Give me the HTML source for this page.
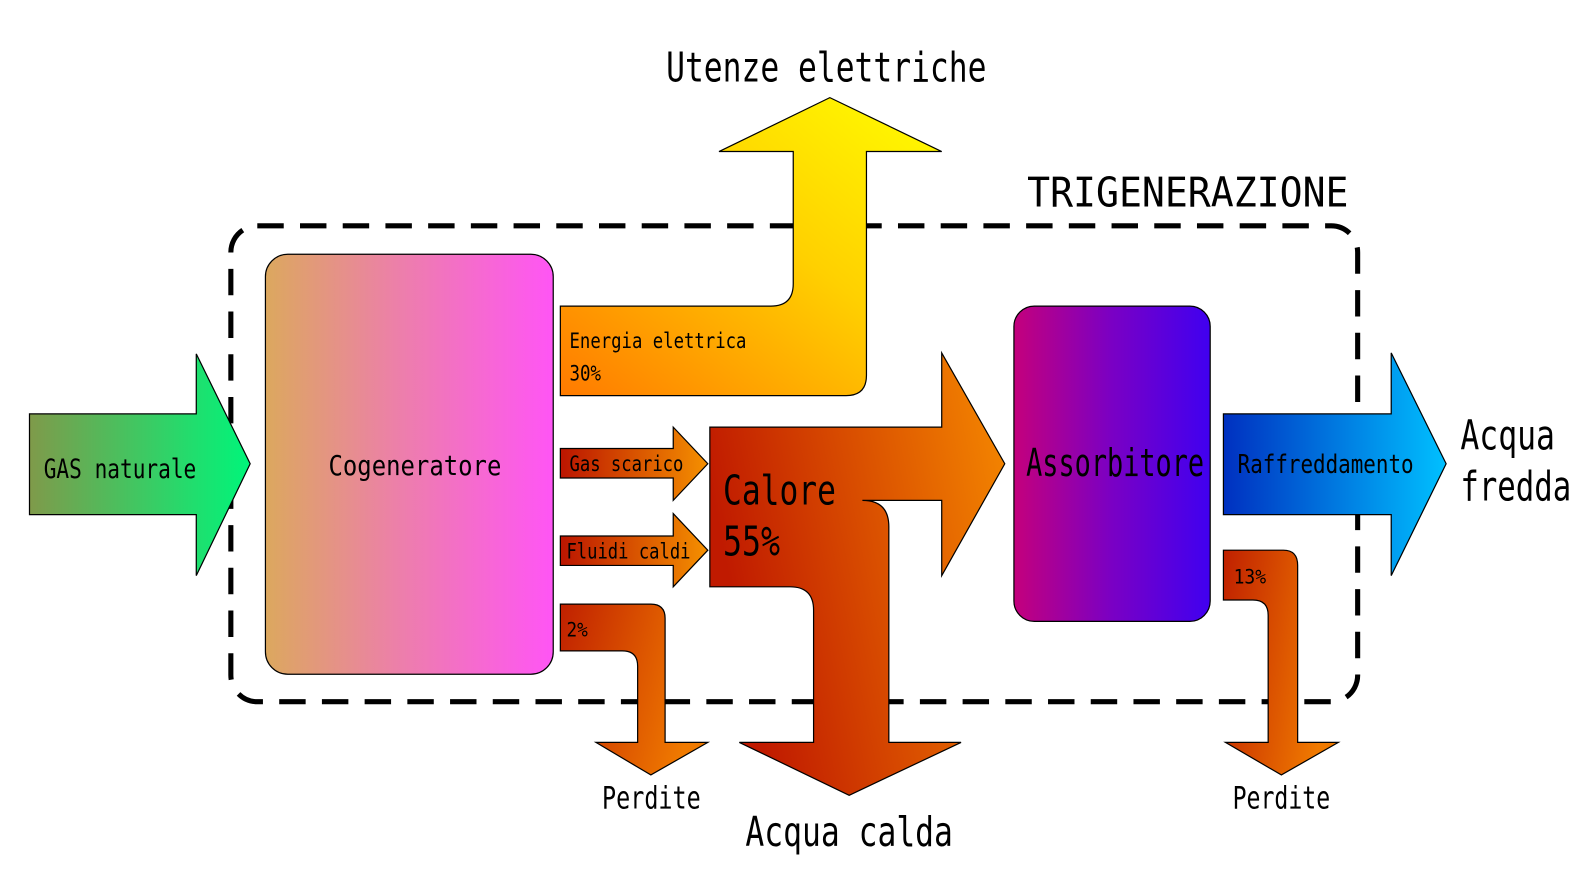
<!DOCTYPE html>
<html><head><meta charset="utf-8"><style>
html,body{margin:0;padding:0;background:#fff;width:1594px;height:880px;overflow:hidden}
svg{display:block}
text{font-family:"DejaVu Sans Mono","Liberation Mono",monospace;fill:#000}
</style></head><body>
<svg width="1594" height="880" viewBox="0 0 1567.4 865.3" preserveAspectRatio="none" xmlns="http://www.w3.org/2000/svg">
<defs>
<linearGradient id="gGreen" x1="0" x2="1" y1="0" y2="0"><stop offset="0" stop-color="#7f9a4a"/><stop offset="1" stop-color="#00f57a"/></linearGradient>
<linearGradient id="gCog" x1="0" x2="1" y1="0" y2="0"><stop offset="0" stop-color="#dca85e"/><stop offset="0.45" stop-color="#ec80a8"/><stop offset="1" stop-color="#ff55f5"/></linearGradient>
<linearGradient id="gYel" x1="0" x2="1" y1="1" y2="0"><stop offset="0" stop-color="#ff7a00"/><stop offset="0.55" stop-color="#ffd000"/><stop offset="1" stop-color="#ffff00"/></linearGradient>
<linearGradient id="gRed" x1="0" x2="1" y1="0" y2="0"><stop offset="0" stop-color="#bb1500"/><stop offset="1" stop-color="#f59000"/></linearGradient>
<linearGradient id="gCal" x1="0" x2="1" y1="0.3" y2="0"><stop offset="0" stop-color="#c01a00"/><stop offset="1" stop-color="#f68a00"/></linearGradient>
<linearGradient id="gAss" x1="0" x2="1" y1="0" y2="0"><stop offset="0" stop-color="#c4007c"/><stop offset="0.5" stop-color="#7a00c4"/><stop offset="1" stop-color="#4000f0"/></linearGradient>
<linearGradient id="gBlue" x1="0" x2="1" y1="0" y2="0"><stop offset="0" stop-color="#0030c0"/><stop offset="1" stop-color="#00c0ff"/></linearGradient>
<linearGradient id="gLoss" x1="0" x2="1" y1="0" y2="0.3"><stop offset="0" stop-color="#c02000"/><stop offset="1" stop-color="#f07a00"/></linearGradient>
</defs>

<rect x="227" y="222" width="1108" height="468" rx="26" fill="none" stroke="#000" stroke-width="5" stroke-dasharray="26 16"/>

<path d="M29,407 H193 V348 L246,456 L193,566 V506 H29 Z" fill="url(#gGreen)" stroke="#000" stroke-width="1.2"/>
<rect x="261" y="250" width="283" height="413" rx="22" fill="url(#gCog)" stroke="#000" stroke-width="1.2"/>

<path d="M551,301 H758 Q780,301 780,279 V149 H707 L816,96 L926,149 H852 V369 Q852,389 832,389 H551 Z" fill="url(#gYel)" stroke="#000" stroke-width="1.2"/>

<path d="M551,441 H662 V420 L696,456 L662,492 V470 H551 Z" fill="url(#gRed)" stroke="#000" stroke-width="1.2"/>
<path d="M551,527 H662 V505 L696,541 L662,577 V556 H551 Z" fill="url(#gRed)" stroke="#000" stroke-width="1.2"/>

<path d="M698,420 H926 V347 L988,456 L926,566 V492 H848 Q874,492 874,518 V730 H945 L835,782 L727,730 H800 V600 Q800,577 777,577 H698 Z" fill="url(#gCal)" stroke="#000" stroke-width="1.2"/>

<path d="M551,594 H640 Q654,594 654,608 V730 H696 L640,762 L586,730 H627 V655 Q627,640 612,640 H551 Z" fill="url(#gLoss)" stroke="#000" stroke-width="1.2"/>

<rect x="997" y="301" width="193" height="310" rx="20" fill="url(#gAss)" stroke="#000" stroke-width="1.2"/>

<path d="M1203,407 H1368 V347 L1422,456 L1368,566 V506 H1203 Z" fill="url(#gBlue)" stroke="#000" stroke-width="1.2"/>

<path d="M1203,541 H1262 Q1276,541 1276,556 V730 H1316 L1260,762 L1205,730 H1247 V605 Q1247,590 1232,590 H1203 Z" fill="url(#gLoss)" stroke="#000" stroke-width="1.2"/>

<text x="655" y="80" font-size="40" textLength="315" lengthAdjust="spacingAndGlyphs">Utenze elettriche</text>
<text x="1010" y="203" font-size="40" textLength="316" lengthAdjust="spacingAndGlyphs">TRIGENERAZIONE</text>
<text x="43" y="470" font-size="26" textLength="150" lengthAdjust="spacingAndGlyphs">GAS naturale</text>
<text x="323" y="467" font-size="27" textLength="170" lengthAdjust="spacingAndGlyphs">Cogeneratore</text>
<text x="560" y="342" font-size="21" textLength="174" lengthAdjust="spacingAndGlyphs">Energia elettrica</text>
<text x="560" y="374" font-size="21" textLength="31" lengthAdjust="spacingAndGlyphs">30%</text>
<text x="560" y="463" font-size="21" textLength="112" lengthAdjust="spacingAndGlyphs">Gas scarico</text>
<text x="557" y="549" font-size="21" textLength="122" lengthAdjust="spacingAndGlyphs">Fluidi caldi</text>
<text x="711" y="496" font-size="40" textLength="111" lengthAdjust="spacingAndGlyphs">Calore</text>
<text x="711" y="546" font-size="40" textLength="56" lengthAdjust="spacingAndGlyphs">55%</text>
<text x="557" y="626" font-size="19" textLength="21" lengthAdjust="spacingAndGlyphs">2%</text>
<text x="1009" y="468" font-size="38" textLength="175" lengthAdjust="spacingAndGlyphs">Assorbitore</text>
<text x="1217" y="465" font-size="25" textLength="173" lengthAdjust="spacingAndGlyphs">Raffreddamento</text>
<text x="1436" y="442" font-size="40" textLength="93" lengthAdjust="spacingAndGlyphs">Acqua</text>
<text x="1436" y="492" font-size="40" textLength="109" lengthAdjust="spacingAndGlyphs">fredda</text>
<text x="1213" y="574" font-size="19" textLength="32" lengthAdjust="spacingAndGlyphs">13%</text>
<text x="592" y="795" font-size="31" textLength="97" lengthAdjust="spacingAndGlyphs">Perdite</text>
<text x="1212" y="795" font-size="31" textLength="96" lengthAdjust="spacingAndGlyphs">Perdite</text>
<text x="733" y="832" font-size="40" textLength="204" lengthAdjust="spacingAndGlyphs">Acqua calda</text>
</svg>
</body></html>
